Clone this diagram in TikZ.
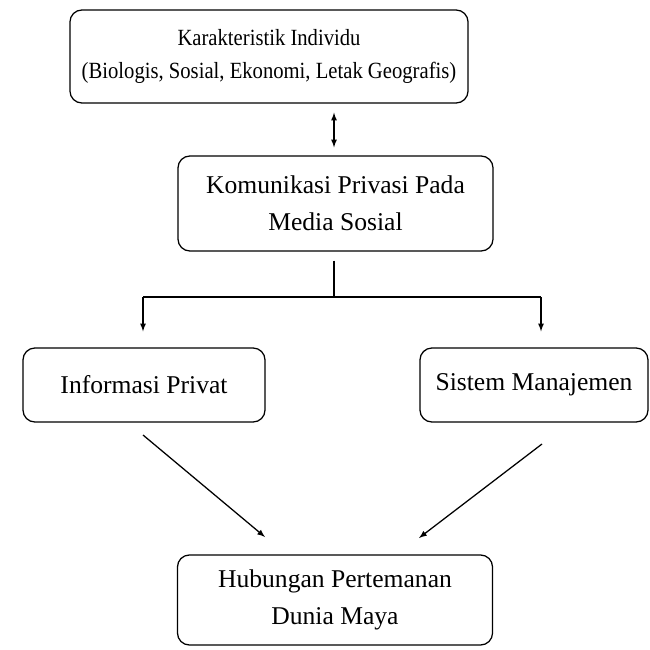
\documentclass[tikz,border=0pt]{standalone}
\usepackage{fontspec}
\setmainfont{Liberation Serif}
\newfontfamily\narrowserif[FakeStretch=0.89]{Liberation Serif}
\usepackage{tikz}
\usetikzlibrary{arrows,calc,positioning}
\tikzset{
        block/.style = {draw, rectangle, rounded corners=0.3cm,
            line width=0.9pt, align=center,
            font=\fontsize{18.2}{26}\selectfont},
        narrow/.style = {font=\narrowserif\fontsize{16.5}{23.4}\selectfont},
        arrow/.style={draw, -latex, line width=0.9pt},
        twoway/.style={draw, latex-latex, line width=0.9pt},
        branch/.style={draw, line width=0.9pt},
    }

\begin{document}
\begin{tikzpicture}[x=0.025cm,y=-0.025cm]
    \useasboundingbox (0,0) rectangle (650,650);

    \node[block, narrow, minimum width=9.95cm, minimum height=2.325cm] (ciri) at (269,56.5)
        {Karakteristik Individu\\(Biologis, Sosial, Ekonomi, Letak Geografis)};
    \node[block, minimum width=7.875cm, minimum height=2.375cm] (komunikasi) at (335.5,203.5)
        {Komunikasi Privasi Pada\\Media Sosial};
    \node[block, minimum width=6.05cm, minimum height=1.85cm] (info) at (144,385)
        {Informasi Privat};
    \node[block, minimum width=5.7cm, minimum height=1.85cm] (sistem) at (534,385)
        {Sistem Manajemen};
    \node[block, minimum width=7.875cm, minimum height=2.25cm] (hubungan) at (335,600)
        {Hubungan Pertemanan\\Dunia Maya};

    %branch points
    \coordinate (split) at (334,297);
    \coordinate (leftdrop) at (143,297);
    \coordinate (rightdrop) at (541,297);
    %diagonal ends
    \coordinate (infostart) at (143,435);
    \coordinate (infoend) at (265,537);
    \coordinate (sistemstart) at (542,444);
    \coordinate (sistemend) at (419,538);

    \draw [twoway, shorten <=0.225cm, shorten >=0.2cm]
          (ciri.south -| split) -- (komunikasi.north -| split);
    \draw [branch, shorten <=0.225cm] (komunikasi.south -| split) -- (split);
    \draw [branch] (leftdrop) -- (rightdrop);
    \draw [arrow, shorten >=0.4cm] (leftdrop) -- (leftdrop |- info.north);
    \draw [arrow, shorten >=0.4cm] (rightdrop) -- (rightdrop |- sistem.north);

    \draw [arrow] (infostart) -- (infoend);
    \draw [arrow] (sistemstart) -- (sistemend);
\end{tikzpicture}
\end{document}
